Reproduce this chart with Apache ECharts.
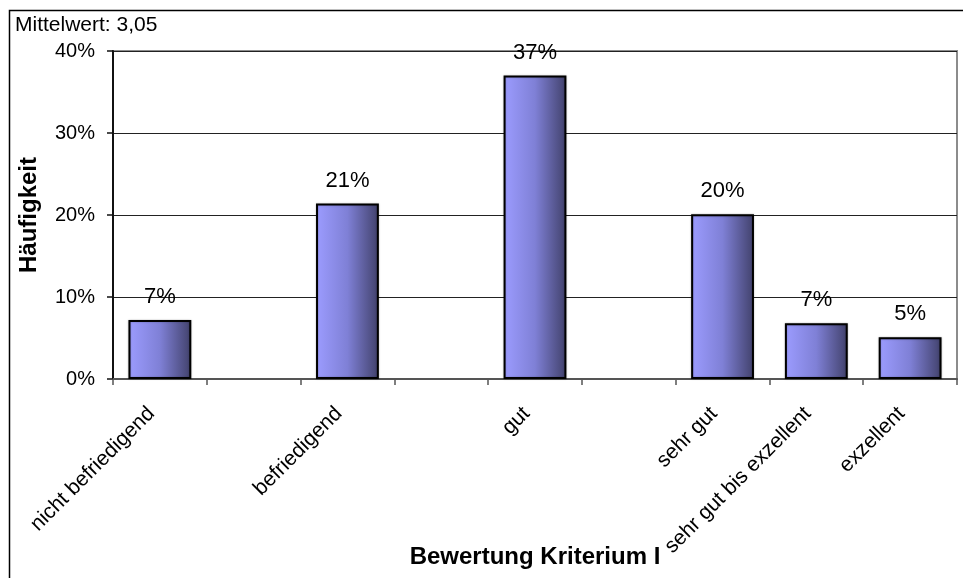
<!DOCTYPE html>
<html>
<head>
<meta charset="utf-8">
<script src="https://cdn.jsdelivr.net/npm/echarts@6/dist/echarts.min.js"></script>
<style>
  html, body { margin: 0; padding: 0; background: #fff; }
  #chart { width: 963px; height: 578px; }
</style>
</head>
<body>
<div id="chart"></div>
<script>
// Rating categories (empty slots keep the gaps between the main grades)
const categories = ['nicht befriedigend', '', 'befriedigend', '', 'gut', '', 'sehr gut', 'sehr gut bis exzellent', 'exzellent'];
// Share of answers per category (fraction of 1)
const shares = [0.072, null, 0.214, null, 0.370, null, 0.201, 0.068, 0.051];
// Value axis ticks
const yTicks = { min: 0, max: 0.4, interval: 0.1 };
const meanText = 'Mittelwert: 3,05';
const xTitle = 'Bewertung Kriterium I';
const yTitle = 'Häufigkeit';

const FONT = "'Liberation Sans', Arial, sans-serif";
const pct = v => Math.round(v * 100) + '%';

const chart = echarts.init(document.getElementById('chart'));
chart.setOption({
  animation: false,
  backgroundColor: '#ffffff',
  textStyle: { fontFamily: FONT, color: '#000' },
  grid: {
    left: 113, top: 51, right: 6, bottom: 199,
    outerBoundsMode: 'none',
    containLabel: false,
    show: true, borderColor: '#8c8c8c', borderWidth: 2, backgroundColor: '#fff'
  },
  graphic: [
    {
      type: 'rect', z: -1, silent: true,
      shape: { x: 9.5, y: 10.5, width: 1000, height: 600 },
      style: { fill: 'none', stroke: '#000', lineWidth: 1.5 }
    },
    {
      type: 'text', left: 15, top: 15,
      style: { text: meanText, font: '21px ' + FONT, fill: '#000' }
    }
  ],
  xAxis: {
    type: 'category',
    data: categories,
    name: xTitle,
    nameLocation: 'middle',
    nameGap: 166,
    nameMoveOverlap: false,
    nameTextStyle: { fontSize: 24, fontWeight: 'bold', fontFamily: FONT, color: '#000' },
    axisLine: { lineStyle: { color: '#555', width: 2 } },
    axisTick: { show: true, length: 6, lineStyle: { color: '#555', width: 1.5 } },
    axisLabel: {
      interval: 0, rotate: 45, margin: 23, fontSize: 21,
      fontFamily: FONT, color: '#000', padding: [0, 12, 0, 0],
      hideOverlap: false
    },
    splitLine: { show: false }
  },
  yAxis: {
    type: 'value',
    min: yTicks.min, max: yTicks.max, interval: yTicks.interval,
    name: yTitle,
    nameLocation: 'middle',
    nameGap: 72,
    nameRotate: 90,
    nameMoveOverlap: false,
    nameTextStyle: { fontSize: 24, fontWeight: 'bold', fontFamily: FONT, color: '#000' },
    axisLine: { show: true, lineStyle: { color: '#111', width: 2 } },
    axisTick: { show: true, length: 6, lineStyle: { color: '#111', width: 1.5 } },
    axisLabel: { formatter: v => pct(v), fontSize: 20, margin: 18, fontFamily: FONT, color: '#000' },
    splitLine: { show: true, lineStyle: { color: '#222', width: 1 } }
  },
  series: [{
    type: 'bar',
    data: shares.map(v => (v === null ? '-' : v)),
    barCategoryGap: '33%',
    itemStyle: {
      borderColor: '#000',
      borderWidth: 2,
      color: new echarts.graphic.LinearGradient(0, 0, 1, 0, [
        { offset: 0, color: '#9c9cff' },
        { offset: 0.5, color: '#7f80d6' },
        { offset: 1, color: '#41416b' }
      ]),
      shadowColor: 'rgba(0,0,0,0.25)',
      shadowBlur: 2
    },
    label: {
      show: true, position: 'top', distance: 12,
      formatter: p => pct(p.value),
      fontSize: 22, fontFamily: FONT, color: '#000'
    }
  }]
});
</script>
</body>
</html>
